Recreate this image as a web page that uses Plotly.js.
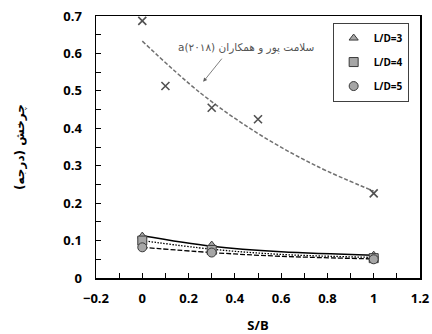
<!DOCTYPE html>
<html>
<head>
<meta charset="utf-8">
<script src="https://cdn.plot.ly/plotly-3.0.1.min.js"></script>
<style>html,body{margin:0;padding:0;background:#fff;}#chart{width:432px;height:334px;}</style>
</head>
<body>
<div id="chart"></div>
<script>
// Reference data (Salamatpour et al. 2018a)
const refX = [0, 0.1, 0.3, 0.5, 1.0];
const refY = [0.687, 0.513, 0.455, 0.424, 0.226];
// Reference trend line
const refTrendX = [0, 0.25, 0.5, 0.75, 1.0];
const refTrendY = [0.633, 0.495, 0.386, 0.300, 0.232];

// Experimental points
const sbX = [0, 0.3, 1.0];
const ld3Y = [0.112, 0.088, 0.061];
const ld4Y = [0.100, 0.075, 0.053];
const ld5Y = [0.082, 0.068, 0.050];

// Trend lines
const trendX = [0, 0.3, 0.6, 1.0];
const ld3Trend = [0.113, 0.085, 0.070, 0.061];
const ld4Trend = [0.100, 0.077, 0.063, 0.055];
const ld5Trend = [0.082, 0.068, 0.058, 0.051];

const names = ['L/D=3', 'L/D=4', 'L/D=5'];
const annText = 'a(۲۰۱۸) سلامت پور و همکاران';
const yTitle = 'چرخش (درجه)';
const xTitle = 'S/B';

const markerFill = '#a6a6a6';
const markerLine = '#3a3a3a';

const traces = [
  {x: refTrendX, y: refTrendY, mode: 'lines', line: {shape: 'spline', color: '#707070', width: 1.5, dash: '4px,2px'}, showlegend: false, hoverinfo: 'skip'},
  {x: refX, y: refY, mode: 'markers', marker: {symbol: 'x-thin', size: 8, line: {color: '#505050', width: 1.6}}, showlegend: false},
  {x: trendX, y: ld5Trend, mode: 'lines', line: {shape: 'spline', color: '#000', width: 1.3, dash: '5px,2px'}, showlegend: false},
  {x: trendX, y: ld4Trend, mode: 'lines', line: {shape: 'spline', color: '#000', width: 1.3, dash: '1.5px,1.5px'}, showlegend: false},
  {x: trendX, y: ld3Trend, mode: 'lines', line: {shape: 'spline', color: '#000', width: 1.5}, showlegend: false},
  {x: sbX, y: ld3Y, name: names[0], legendgroup: 'a', mode: 'markers', marker: {symbol: 'triangle-up', size: 8, color: markerFill, line: {color: markerLine, width: 1}}},
  {x: sbX, y: ld4Y, name: names[1], legendgroup: 'b', mode: 'markers', marker: {symbol: 'square', size: 9, color: markerFill, line: {color: markerLine, width: 1}}},
  {x: sbX, y: ld5Y, name: names[2], legendgroup: 'c', mode: 'markers', marker: {symbol: 'circle', size: 9, color: markerFill, line: {color: markerLine, width: 1}}}
];

const tickFont = {family: 'Open Sans, Liberation Sans, sans-serif', size: 13, color: '#000', weight: 'bold'};

const layout = {
  width: 432, height: 334,
  margin: {l: 96, r: 12, t: 16, b: 56},
  paper_bgcolor: '#fff', plot_bgcolor: '#fff',
  showlegend: true,
  legend: {
    x: 0.965, xanchor: 'right', y: 0.975, yanchor: 'top',
    bgcolor: '#fff', bordercolor: '#404040', borderwidth: 1,
    font: {family: 'Open Sans, sans-serif', size: 10, color: '#000', weight: 'bold'},
    tracegroupgap: 5, itemwidth: 30
  },
  xaxis: {
    range: [-0.2, 1.2], dtick: 0.2, tick0: 0,
    showgrid: false, zeroline: false,
    showline: true, linecolor: '#000', linewidth: 1.5, mirror: true,
    ticks: 'inside', ticklen: 5, tickcolor: '#000',
    minor: {dtick: 0.1, ticks: 'inside', ticklen: 5, tickcolor: '#000', showgrid: false},
    tickfont: tickFont, tickformat: '.1~f', ticklabelstandoff: 8,
    title: {text: xTitle, font: tickFont, standoff: 16}
  },
  yaxis: {
    range: [0, 0.7], dtick: 0.1, tick0: 0,
    showgrid: false, zeroline: false,
    showline: true, linecolor: '#000', linewidth: 1.5, mirror: true,
    ticks: 'inside', ticklen: 5, tickcolor: '#000',
    minor: {dtick: 0.05, ticks: 'inside', ticklen: 5, tickcolor: '#000', showgrid: false},
    tickfont: tickFont, tickformat: '.1~f', ticklabelstandoff: 10,
    title: {text: yTitle, font: {family: 'DejaVu Sans, sans-serif', size: 12, color: '#000', weight: 'bold'}, standoff: 36}
  },
  annotations: [
    {x: 0.263, y: 0.524, xref: 'x', yref: 'y', ax: 0.349, ay: 0.59, axref: 'x', ayref: 'y',
     text: '', showarrow: true, arrowhead: 2, arrowsize: 1, arrowwidth: 0.8, arrowcolor: '#606060'},
    {x: 0.448, y: 0.617, xref: 'x', yref: 'y', text: annText, showarrow: false,
     font: {family: 'DejaVu Sans, sans-serif', size: 10.5, color: '#555'}}
  ]
};

Plotly.newPlot('chart', traces, layout, {staticPlot: true, displayModeBar: false});
</script>
</body>
</html>
